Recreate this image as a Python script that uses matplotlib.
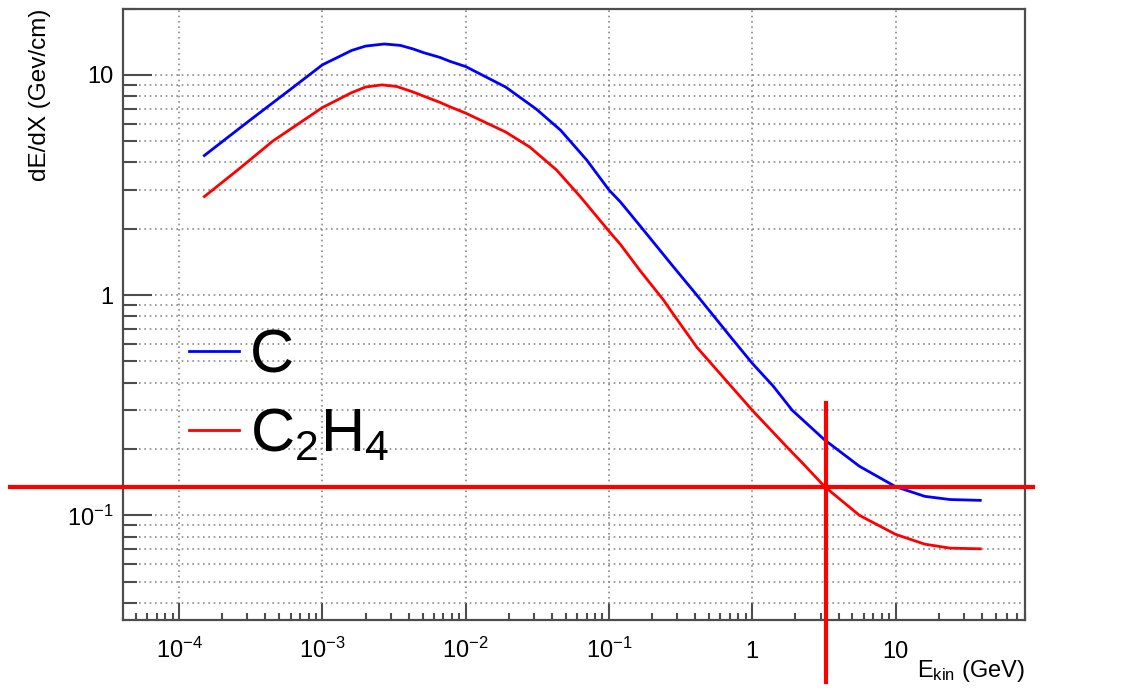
import numpy as np
import matplotlib
matplotlib.use("Agg")
import matplotlib.pyplot as plt
from matplotlib.ticker import FixedLocator, LogLocator, NullFormatter

plt.rcParams['font.family'] = ['Liberation Sans', 'DejaVu Sans']
plt.rcParams['mathtext.fontset'] = 'custom'
plt.rcParams['mathtext.rm'] = 'Liberation Sans'
plt.rcParams['mathtext.it'] = 'Liberation Sans:italic'
plt.rcParams['mathtext.default'] = 'regular'

# stopping power vs kinetic energy (GeV, GeV/cm)
e_c = [1.5e-4, 3.0e-4, 6.0e-4, 1.0e-3, 1.6e-3, 2.0e-3, 2.7e-3, 3.5e-3, 4.3e-3,
       5.1e-3, 6.6e-3, 7.8e-3, 1.0e-2, 1.9e-2, 3.1e-2, 4.6e-2, 7.0e-2, 0.10,
       0.12, 0.165, 0.28, 0.41, 0.7, 1.0, 1.4, 1.9, 3.2, 5.6, 10, 16, 24, 39]
dedx_c = [4.3, 6.1, 8.6, 11.1, 12.9, 13.5, 13.8, 13.6, 13.1,
          12.6, 12.0, 11.5, 10.9, 8.8, 7.0, 5.6, 4.1, 3.0,
          2.65, 2.06, 1.35, 1.0, 0.65, 0.49, 0.386, 0.30, 0.22, 0.167, 0.135, 0.122, 0.118, 0.117]

e_ch = [1.5e-4, 2.7e-4, 4.5e-4, 1.0e-3, 1.6e-3, 2.0e-3, 2.6e-3, 3.3e-3, 4.2e-3,
        5.1e-3, 6.6e-3, 7.8e-3, 1.0e-2, 1.9e-2, 2.8e-2, 4.3e-2, 6.3e-2, 0.10,
        0.12, 0.165, 0.24, 0.27, 0.41, 1.0, 1.8, 2.2, 3.2, 5.6, 10, 16, 24, 39]
dedx_ch = [2.8, 3.8, 5.0, 7.1, 8.3, 8.8, 9.0, 8.85, 8.4,
           8.0, 7.5, 7.15, 6.7, 5.5, 4.7, 3.7, 2.8, 1.95,
           1.70, 1.29, 0.95, 0.85, 0.58, 0.30, 0.20, 0.175, 0.135, 0.10, 0.082, 0.074, 0.071, 0.0705]

labels = ['C', 'C$_2$H$_4$']
colors = ['#0000ff', '#ff0000']

x_major = [1e-4, 1e-3, 1e-2, 1e-1, 1, 10]
x_major_labels = ['10$^{-4}$', '10$^{-3}$', '10$^{-2}$', '10$^{-1}$', '1', '10']
y_major = [0.1, 1, 10]
y_major_labels = ['10$^{-1}$', '1', '10']

# crossing point marked by the red cross-hair
cross_e = 3.26
cross_dedx = 0.134

fig = plt.figure(figsize=(11.22, 6.95), dpi=100)
ax = fig.add_axes([123 / 1122, 75 / 695, 902 / 1122, 611.5 / 695])

ax.plot(e_c, dedx_c, color=colors[0], lw=2, label=labels[0], zorder=3)
ax.plot(e_ch, dedx_ch, color=colors[1], lw=2, label=labels[1], zorder=3)

ax.set_xscale('log')
ax.set_yscale('log')
ax.set_xlim(4.06e-5, 80)
ax.set_ylim(0.0335, 20)

ax.xaxis.set_major_locator(FixedLocator(x_major))
ax.set_xticklabels(x_major_labels)
ax.xaxis.set_minor_locator(LogLocator(base=10, subs=np.arange(2, 10), numticks=20))
ax.xaxis.set_minor_formatter(NullFormatter())
ax.yaxis.set_major_locator(FixedLocator(y_major))
ax.set_yticklabels(y_major_labels)
ax.yaxis.set_minor_locator(LogLocator(base=10, subs=np.arange(2, 10), numticks=20))
ax.yaxis.set_minor_formatter(NullFormatter())

frame_col = '#4d4d4d'
for s in ax.spines.values():
    s.set_color(frame_col)
    s.set_linewidth(1.6)

ax.tick_params(axis='both', which='both', direction='in', color=frame_col,
               width=1.5, top=False, right=False, labelsize=17, labelcolor='black')
ax.tick_params(axis='y', which='major', length=21, pad=7)
ax.tick_params(axis='y', which='minor', length=10)
ax.tick_params(axis='x', which='major', length=12, pad=27)
ax.tick_params(axis='x', which='minor', length=5)

dots = (0, (1, 2.2))
ax.grid(True, axis='x', which='major', color='#8a8a8a', lw=1.2, linestyle=dots, zorder=0)
ax.grid(True, axis='y', which='both', color='#8a8a8a', lw=1.2, linestyle=dots, zorder=0)

ax.set_ylabel('dE/dX (Gev/cm)', fontsize=17.5, loc='top', va='center')
ax.yaxis.set_label_coords(-0.092, 1.0)
ax.set_xlabel('E$_{kin}$ (GeV)', fontsize=17, loc='right', va='baseline')
ax.xaxis.set_label_coords(1.0, -0.093)

ax.legend(loc='upper left', bbox_to_anchor=(0.073, 0.477), frameon=False,
          fontsize=44, handlelength=0.82, handletextpad=0.18, borderpad=0,
          borderaxespad=0, labelspacing=0.36)

ax.axhline(cross_dedx, xmin=-0.125, xmax=1.0085, color='#ff0000', lw=3, clip_on=False, zorder=5)
ax.axvline(cross_e, ymin=-0.1014, ymax=0.355, color='#ff0000', lw=3, clip_on=False, zorder=5)

plt.setp(ax.get_xticklabels(), va='baseline')

fig.savefig('out.png', dpi=100)
